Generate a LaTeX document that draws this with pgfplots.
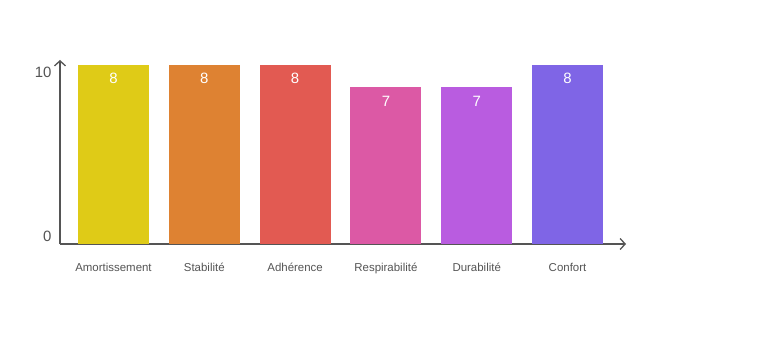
\documentclass[border=0pt]{standalone}
\usepackage{pgfplots}
\pgfplotsset{compat=1.18}
\usetikzlibrary{arrows.meta}
\usepackage{fontspec}
\setmainfont{Liberation Sans}
\definecolor{axgray}{HTML}{555555}
\definecolor{c1}{HTML}{DFCB17}
\definecolor{c2}{HTML}{DE8232}
\definecolor{c3}{HTML}{E25A52}
\definecolor{c4}{HTML}{DC59A5}
\definecolor{c5}{HTML}{B95CE0}
\definecolor{c6}{HTML}{7F65E6}
\begin{document}
\begin{tikzpicture}[x=1bp,y=1bp]
\useasboundingbox (0,0) rectangle (768,355);
\fill[white] (0,0) rectangle (768,355);
\begin{axis}[
  at={(60bp,111bp)}, anchor=south west,
  scale only axis, width=566bp, height=184bp,
  xmin=-0.589, xmax=5.644, ymin=0, ymax=8.22,
  axis lines=left,
  axis line style={draw=axgray, line width=1.3bp, -{Straight Barb[length=5bp,width=11bp,line width=1.3bp]}},
  xtick={0,1,2,3,4,5},
  xticklabels={Amortissement,Stabilité,Adhérence,Respirabilité,Durabilité,Confort},
  ytick={0.36,7.69}, yticklabels={0,10},
  major tick length=0pt,
  xticklabel style={font=\fontsize{11.5}{13}\selectfont, text=axgray, yshift=-16bp},
  yticklabel style={font=\fontsize{15}{17}\selectfont, text=axgray, xshift=-5bp},
  clip=false,
  ybar, bar width=0.782, bar shift=0pt,
  nodes near coords,
  every node near coord/.append style={anchor=north, yshift=-5bp, text=white, font=\fontsize{15}{17}\selectfont},
  /pgf/number format/assume math mode=true,
]
\addplot[fill=c1, draw=none] coordinates {(0,8)};
\addplot[fill=c2, draw=none] coordinates {(1,8)};
\addplot[fill=c3, draw=none] coordinates {(2,8)};
\addplot[fill=c4, draw=none] coordinates {(3,7)};
\addplot[fill=c5, draw=none] coordinates {(4,7)};
\addplot[fill=c6, draw=none] coordinates {(5,8)};
\end{axis}
\end{tikzpicture}
\end{document}
